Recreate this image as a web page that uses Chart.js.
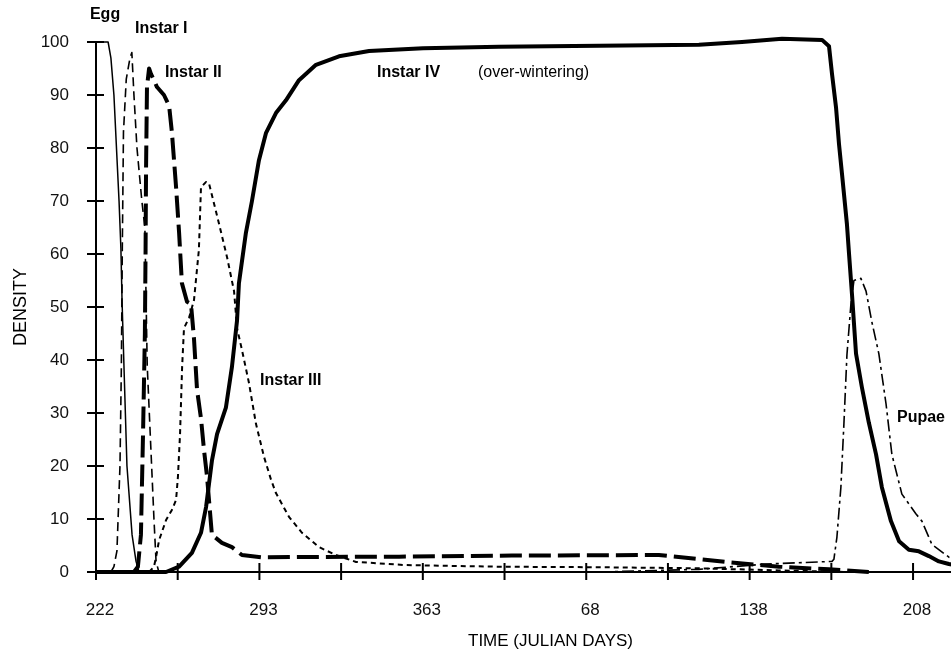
<!DOCTYPE html>
<html>
<head>
<meta charset="utf-8">
<script src="https://cdn.jsdelivr.net/npm/chart.js@4.4.1/dist/chart.umd.min.js"></script>
<style>
  html, body { margin: 0; padding: 0; background: #fff; overflow: hidden; }
  #wrap { width: 951px; height: 652px; overflow: hidden; position: relative; }
  #chart { display: block; }
</style>
</head>
<body>
<div id="wrap"><canvas id="chart" width="1010" height="652"></canvas></div>
<script>
// days run on past 365 into the next year (433 = day 68, 503 = day 138, 573 = day 208)
const xTickValues = [222, 257.1, 292.2, 327.3, 362.4, 397.5, 432.6, 467.7, 502.8, 537.9, 573];
const xTickLabels = ['222', '', '293', '', '363', '', '68', '', '138', '', '208'];
const yTickValues = [0, 10, 20, 30, 40, 50, 60, 70, 80, 90, 100];

const eggDays = [222, 227.2, 228.4, 229.7, 231.9, 232.7, 233.2, 234, 235.3, 237.5, 239.2, 240.5, 246];
const eggDensity = [100, 100, 97, 90, 70, 61, 51, 39, 20, 7, 2, 0, 0];

const instar1Days = [228.4, 229.7, 231, 232.3, 232.9, 233.3, 233.8, 235, 236.6, 237.4, 238.3, 239.6, 241.7, 243, 244, 245.6, 246.9, 247.8, 249];
const instar1Density = [0, 1, 4, 20, 39, 61, 83, 93, 97, 98, 90, 80, 70, 65, 39, 23, 10, 2, 0];

const instar2Days = [238.3, 240, 241.3, 242.2, 243, 243.3, 243.5, 243.9, 244.8, 245.6, 248.2, 251.2, 253.4, 254.6, 256.4, 257.7, 258.9, 261.1, 262.8, 264.1, 265.4, 267.1, 268.4, 269.7, 271.8, 276.1, 280.4, 284.7, 292.9, 352.2, 400.7, 463.8, 492.6, 515.4, 536.9, 554];
const instar2Density = [0, 1, 7, 26, 45, 61, 76, 91.5, 95, 94, 91.5, 90, 88, 83, 72.6, 64, 54.5, 51, 50.6, 44, 34.4, 29, 23, 18, 7, 5.5, 4.7, 3.2, 2.8, 2.9, 3.1, 3.2, 1.9, 1.0, 0.5, 0];

const instar3Days = [244.8, 246.9, 247.8, 249.1, 252.1, 254.6, 256.4, 257.2, 258.1, 259, 259.8, 262, 264.1, 266.2, 267.1, 269.3, 270.5, 274.8, 278.3, 281.3, 282.6, 284.7, 287.7, 290.7, 294.2, 297.2, 299.3, 304.9, 310.5, 317.8, 325.1, 333.7, 355.2, 395.1, 438.1, 481, 515.4, 545.5];
const instar3Density = [0, 1, 2.8, 6, 9.8, 11.7, 13.6, 18, 26, 38.7, 46, 48, 51.3, 60.8, 72.6, 73.6, 73.4, 65.8, 59.4, 53, 46, 41.9, 35.7, 28, 21.7, 17.4, 14.9, 10.4, 7.4, 4.7, 3.2, 1.9, 1.3, 1.0, 0.9, 0.7, 0.3, 0];

const instar4Days = [222, 252.1, 257.7, 263.2, 267.1, 269.3, 271.8, 274, 277.8, 280.4, 282.6, 283.4, 286.4, 289, 292, 295, 299.3, 303.6, 309.2, 316.5, 326.4, 339.3, 362.5, 395.1, 438.1, 481, 499.5, 516.7, 533.9, 536.9, 538.2, 539.9, 541.2, 542.5, 544.6, 545.5, 546.8, 548.5, 551, 554, 557.1, 559.6, 563.5, 567, 571.2, 575.5, 579.8, 584.1, 588.4, 595];
const instar4Density = [0, 0, 1, 3.6, 7.4, 12.3, 21, 26, 31, 38.7, 47.5, 54.5, 64, 70, 77.7, 82.8, 86.6, 89, 92.8, 95.7, 97.3, 98.3, 98.8, 99.1, 99.3, 99.5, 100, 100.6, 100.4, 99.2, 93.9, 87.7, 80.7, 75, 65.6, 60, 52.2, 41.2, 34.9, 28.2, 22.2, 16, 9.6, 5.8, 4.2, 3.9, 3, 2, 1.5, 1];

const pupaeDays = [438.1, 481, 509.8, 538.2, 539, 540.3, 542, 543.3, 544.6, 546.3, 547.6, 550.6, 552.8, 555.3, 558.3, 561.4, 563.9, 568.2, 574.2, 576.8, 581.1, 588.4, 595];
const pupaeDensity = [0, 0.5, 1.5, 2, 2.4, 6.6, 16, 28, 41, 50.5, 55, 55.4, 53, 47.2, 41.2, 31.7, 22.2, 14.7, 11, 9.6, 5.2, 2.8, 1.5];

// stage labels: [text, day, density, bold]
const stageLabels = [
  ['Egg', 219.4, 105.1, true],
  ['Instar I', 238.8, 102.6, true],
  ['Instar II', 251.6, 94.2, true],
  ['Instar IV', 342.7, 94.3, true],
  ['(over-wintering)', 386.1, 94.3, false],
  ['Instar III', 292.5, 36.2, true],
  ['Pupae', 566.1, 29.2, true]
];

const FONT = "'Liberation Sans', Arial, Helvetica, sans-serif";

function pts(days, vals) {
  return days.map((d, i) => ({ x: d, y: vals[i] }));
}

function line(label, days, vals, width, dash) {
  return {
    label: label,
    data: pts(days, vals),
    borderColor: '#000',
    borderWidth: width,
    borderDash: dash,
    borderCapStyle: 'butt',
    borderJoinStyle: 'round',
    pointRadius: 0,
    tension: 0,
    fill: false,
    clip: false
  };
}

const crossTicks = {
  id: 'crossTicks',
  afterDraw(chart) {
    const ctx = chart.ctx;
    const xs = chart.scales.x, ys = chart.scales.y;
    const x0 = xs.getPixelForValue(222);
    const y0 = ys.getPixelForValue(0);
    ctx.save();
    ctx.strokeStyle = '#000';
    ctx.lineWidth = 2;
    ctx.beginPath();
    yTickValues.forEach(v => {
      const y = ys.getPixelForValue(v);
      ctx.moveTo(x0 - 9, y);
      ctx.lineTo(x0 + 8, y);
    });
    xTickValues.forEach(v => {
      const x = xs.getPixelForValue(v);
      ctx.moveTo(x, y0 - 9);
      ctx.lineTo(x, y0 + 8);
    });
    ctx.stroke();

    ctx.fillStyle = '#000';
    ctx.textBaseline = 'middle';
    ctx.textAlign = 'left';
    stageLabels.forEach(([txt, d, v, bold]) => {
      ctx.font = (bold ? 'bold ' : '') + '16px ' + FONT;
      ctx.fillText(txt, xs.getPixelForValue(d), ys.getPixelForValue(v));
    });
    ctx.restore();
  }
};

new Chart(document.getElementById('chart'), {
  type: 'line',
  data: {
    datasets: [
      line('Egg', eggDays, eggDensity, 1.5, []),
      line('Instar I', instar1Days, instar1Density, 1.6, [9, 5]),
      line('Instar II', instar2Days, instar2Density, 4, [22, 7]),
      line('Instar III', instar3Days, instar3Density, 2, [5, 4]),
      line('Instar IV', instar4Days, instar4Density, 4, []),
      line('Pupae', pupaeDays, pupaeDensity, 1.6, [12, 4, 3, 4])
    ]
  },
  options: {
    responsive: false,
    animation: false,
    layout: { padding: { top: 42, right: 5, left: 0, bottom: 0 } },
    plugins: {
      legend: { display: false },
      tooltip: { enabled: false }
    },
    scales: {
      x: {
        type: 'linear',
        min: 222,
        max: 612.5,
        afterBuildTicks: s => { s.ticks = xTickValues.map(v => ({ value: v })); },
        afterFit: s => { s.height = 80; },
        grid: { display: false },
        border: { display: true, color: '#000', width: 2 },
        ticks: {
          autoSkip: false,
          maxRotation: 0,
          padding: 20,
          labelOffset: 4,
          color: '#111',
          font: { family: FONT, size: 17 },
          callback: (v, i) => xTickLabels[i]
        },
        title: {
          display: true,
          text: 'TIME (JULIAN DAYS)',
          color: '#000',
          font: { family: FONT, size: 17 },
          padding: { top: 0, bottom: 0 }
        }
      },
      y: {
        type: 'linear',
        min: 0,
        max: 100,
        afterBuildTicks: s => { s.ticks = yTickValues.map(v => ({ value: v })); },
        afterFit: s => { s.width = 96; },
        grid: { display: false },
        border: { display: true, color: '#000', width: 2 },
        ticks: {
          padding: 19,
          color: '#111',
          font: { family: FONT, size: 17 }
        },
        title: {
          display: true,
          text: 'DENSITY',
          color: '#000',
          font: { family: FONT, size: 18 },
          padding: { top: 10, bottom: 0 }
        }
      }
    }
  },
  plugins: [crossTicks]
});
</script>
</body>
</html>
